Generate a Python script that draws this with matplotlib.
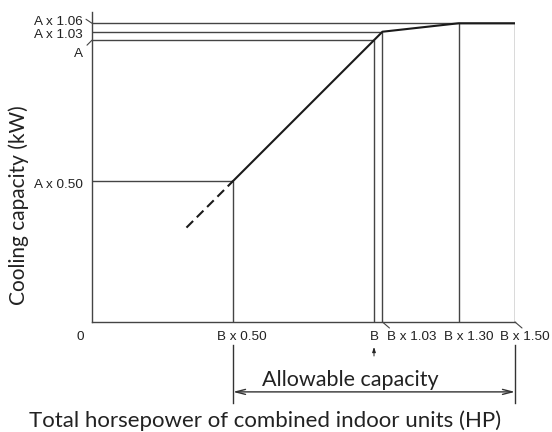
import matplotlib
matplotlib.use("Agg")
import matplotlib.pyplot as plt

# Capacity characteristic: horsepower ratio (x B) vs. cooling capacity ratio (x A)
curve_x = [0.50, 1.03, 1.30, 1.50]
curve_y = [0.50, 1.03, 1.06, 1.06]
dash_x = [0.335, 0.50]
dash_y = [0.335, 0.50]

# Reference guide lines
hline_y = [1.06, 1.03, 1.00, 0.50]
hline_xmax = [1.50, 1.03, 1.00, 0.50]
vline_x = [0.50, 1.00, 1.03, 1.30, 1.50]
vline_ymax = [0.50, 1.00, 1.03, 1.06, 1.06]

x_ticks = [0.0, 0.50, 1.00, 1.03, 1.30, 1.50]
x_labels = ["0", "B x 0.50", "B", "B x 1.03", "B x 1.30", "B x 1.50"]
y_ticks = [1.06, 1.03, 1.00, 0.50]
y_labels = ["A x 1.06", "A x 1.03", "A", "A x 0.50"]

allow_range = [0.50, 1.50]

W, H, DPI = 552, 432, 100
fig = plt.figure(figsize=(W / DPI, H / DPI), dpi=DPI)
ax = fig.add_axes([92 / W, (H - 322) / H, 423 / W, 310 / H])
ax.set_xlim(0, 1.5)
ax.set_ylim(0, 1.10)
for s in ("top", "right"):
    ax.spines[s].set_visible(False)
for s in ("left", "bottom"):
    ax.spines[s].set_color("#444444")
    ax.spines[s].set_linewidth(1.0)
ax.set_xticks([])
ax.set_yticks([])

thin = dict(color="#444444", lw=1.0, solid_capstyle="butt")
for y, xm in zip(hline_y, hline_xmax):
    ax.plot([0, xm], [y, y], **thin)
for x, ym in zip(vline_x, vline_ymax):
    ax.plot([x, x], [0, ym], **thin)

ax.plot(curve_x, curve_y, color="#1a1a1a", lw=1.5, solid_joinstyle="miter")
ax.plot(dash_x, dash_y, color="#1a1a1a", lw=1.5, dashes=(4.5, 2.5))

tick_font = dict(family="Liberation Sans", fontsize=9.7, color="#222222")

# x labels (pixel offsets from their guide positions)
x_off = [-12, 9, 0, 29, 10, 10]
for x, lab, dx in zip(x_ticks, x_labels, x_off):
    ax.annotate(lab, (x, 0), xytext=(dx, -15), textcoords="offset pixels",
                ha="center", va="center", annotation_clip=False, **tick_font)

# leader strokes for crowded labels
for x in (1.03, 1.50):
    ax.annotate("", (x, 0), xytext=(7, -6), textcoords="offset pixels",
                arrowprops=dict(arrowstyle="-", color="#444444", lw=0.8,
                                shrinkA=0, shrinkB=0), annotation_clip=False)

# y labels
y_off = [1, -3, -14, -4]
for y, lab, dy in zip(y_ticks, y_labels, y_off):
    ax.annotate(lab, (0, y), xytext=(-9, dy), textcoords="offset pixels",
                ha="right", va="center", annotation_clip=False, **tick_font)
ax.annotate("", (0, 1.06), xytext=(-6, 4), textcoords="offset pixels",
            arrowprops=dict(arrowstyle="-", color="#444444", lw=0.8,
                            shrinkA=0, shrinkB=0), annotation_clip=False)
ax.annotate("", (0, 1.00), xytext=(-5, -5), textcoords="offset pixels",
            arrowprops=dict(arrowstyle="-", color="#444444", lw=0.8,
                            shrinkA=0, shrinkB=0), annotation_clip=False)

# small arrow under the B label
ax.annotate("", (1.0, -0.0887), xytext=(1.0, -0.1206),
            arrowprops=dict(arrowstyle="-|>,head_length=0.3,head_width=0.1",
                            color="#222222", lw=0.7, shrinkA=0, shrinkB=0),
            annotation_clip=False)

# allowable capacity range
y_ext0, y_ext1, y_arr = -0.082, -0.287, -0.248
for x in allow_range:
    ax.plot([x, x], [y_ext0, y_ext1], color="#333333", lw=1.0, clip_on=False)
ax.annotate("", (allow_range[0], y_arr), xytext=(allow_range[1], y_arr),
            arrowprops=dict(arrowstyle="<->,head_length=0.7,head_width=0.18",
                            color="#333333", lw=1.0, shrinkA=0, shrinkB=0),
            annotation_clip=False)

label_font = dict(family="Lato", color="#222222")
ax.text(0.915, -0.2057, "Allowable capacity", ha="center", va="center",
        clip_on=False, fontsize=15.5, **label_font)
fig.text(265 / W, 1 - 421 / H, "Total horsepower of combined indoor units (HP)",
         ha="center", va="center", fontsize=16, **label_font)
fig.text(19 / W, 1 - 205 / H, "Cooling capacity (kW)", rotation=90,
         ha="center", va="center", fontsize=15, **label_font)

fig.savefig("out.png", dpi=DPI, facecolor="white")
